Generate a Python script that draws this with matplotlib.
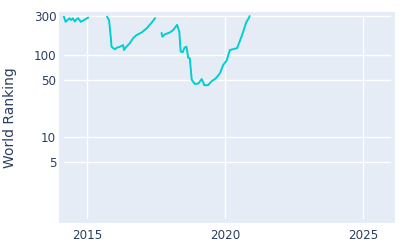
import numpy as np
import matplotlib.pyplot as plt

# world ranking over time (decimal years), NaN marks a gap in the record
years = [2014.17, 2014.23, 2014.37, 2014.43, 2014.49, 2014.56, 2014.62, 2014.68, 2014.78, 2014.90, 2015.04,
         2015.30,
         2015.73, 2015.80, 2015.86, 2015.89, 2016.01, 2016.09, 2016.19, 2016.31, 2016.34, 2016.41, 2016.55,
         2016.67, 2016.80, 2016.98, 2017.16, 2017.34, 2017.46,
         2017.60,
         2017.70, 2017.73, 2017.82, 2018.00, 2018.12, 2018.26, 2018.34, 2018.39, 2018.46, 2018.53, 2018.60,
         2018.66, 2018.72, 2018.79, 2018.90, 2019.03, 2019.15, 2019.20, 2019.24, 2019.38, 2019.51, 2019.66,
         2019.81, 2019.93, 2020.05, 2020.17, 2020.43, 2020.59, 2020.77, 2020.85, 2020.88]
ranking = [290, 253, 279, 266, 279, 255, 270, 280, 253, 266, 284,
           np.nan,
           290, 265, 167, 126, 117, 123, 126, 132, 115, 124, 139,
           160, 175, 188, 211, 247, 279,
           np.nan,
           184, 167, 178, 188, 201, 232, 192, 110, 108, 123, 126,
           93, 91, 50, 44.5, 45, 51, 47, 43, 43, 48, 52,
           60, 76, 85, 115, 121, 167, 254, 279, 295]

yticks = [5, 10, 50, 100, 300]
xticks = [2015, 2020, 2025]

txt = '#2a3f5f'
plt.rcParams['font.family'] = ['DejaVu Sans']

fig = plt.figure(figsize=(4, 2.5), dpi=100)
ax = fig.add_axes([0.1475, 0.108, 0.84, 0.844])
ax.set_facecolor('#e5ecf6')
for s in ax.spines.values():
    s.set_visible(False)

ax.set_yscale('log')
ax.set_xlim(2013.99, 2026.14)
ax.set_ylim(0.91, 333)

# plotly-like grid, slightly inset from the plot edges
for y in yticks:
    ax.axhline(y, xmin=0.015, xmax=0.985, color='white', lw=1, zorder=1)
for x in xticks:
    ax.axvline(x, ymin=0.024, ymax=0.976, color='white', lw=1, zorder=1)

ax.plot(years, ranking, color='#00ced1', lw=1.4, zorder=3)

ax.set_yticks(yticks)
ax.set_yticklabels([str(v) for v in yticks])
ax.yaxis.set_minor_locator(plt.NullLocator())
ax.set_xticks(xticks)
ax.set_xticklabels([str(v) for v in xticks])
ax.tick_params(length=0, labelsize=8.6, colors=txt, pad=4)
ax.tick_params(axis='y', pad=2)
ax.set_ylabel('World Ranking', color=txt, fontsize=10, labelpad=12)

fig.savefig('out.png', dpi=100)
